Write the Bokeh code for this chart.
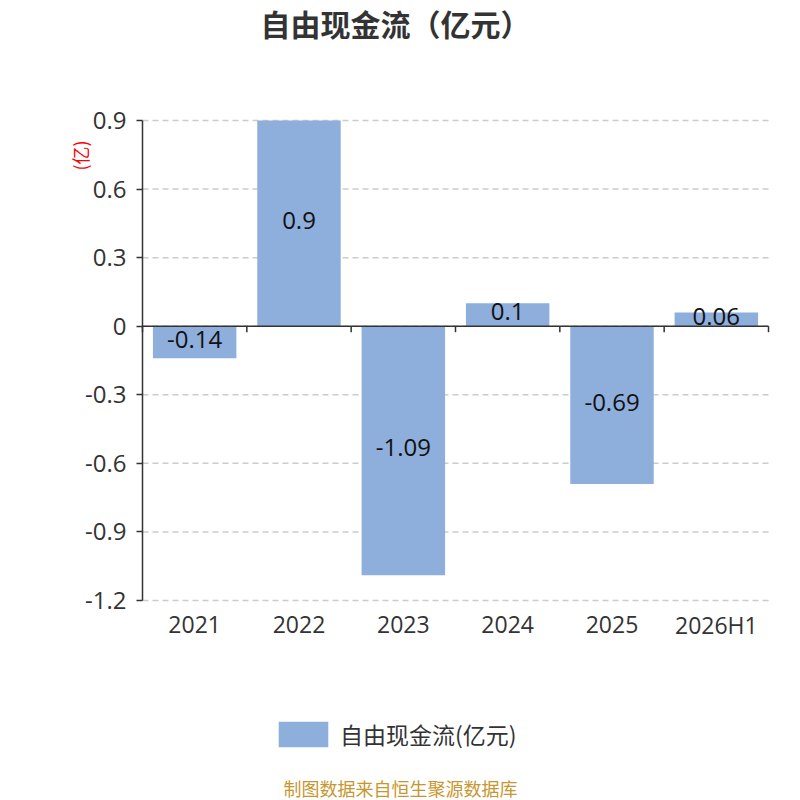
import math
from bokeh.plotting import figure
from bokeh.models import (Range1d, FixedTicker, Label, Legend, LegendItem,
                          ColumnDataSource, CustomJSTickFormatter)
from bokeh.core.properties import value
from bokeh.embed import file_html
from bokeh.resources import INLINE

# ---- data ----
categories = ["2021", "2022", "2023", "2024", "2025", "2026H1"]
free_cash_flow = [-0.14, 0.9, -1.09, 0.1, -0.69, 0.06]
value_labels = ["-0.14", "0.9", "-1.09", "0.1", "-0.69", "0.06"]
y_ticks = [-1.2, -0.9, -0.6, -0.3, 0, 0.3, 0.6, 0.9]
title_text = "自由现金流（亿元）"
series_name = "自由现金流(亿元)"
unit_text = "(亿)"
footer_text = "制图数据来自恒生聚源数据库"

# ---- layout (pixels) ----
W = H = 800
FRAME_LEFT = 64          # left border reserved for the y axis panel
AXIS_X = 142             # pixel position of the value axis
PLOT_RIGHT = 768         # right end of the category band
PLOT_TOP = 120           # pixel position of max tick
PLOT_BOTTOM = 600        # pixel position of min tick

CJK = "Noto Sans CJK SC"
NUM = "Open Sans"
BAR_COLOR = "#8eaedc"
AXIS_COLOR = "#333333"

n = len(categories)
centers = [i + 0.5 for i in range(n)]
bounds = list(range(n + 1))
ymin, ymax = min(y_ticks), max(y_ticks)

x_per = (PLOT_RIGHT - AXIS_X) / n
y_per = (PLOT_BOTTOM - PLOT_TOP) / (ymax - ymin)
x_range = Range1d(-(AXIS_X - FRAME_LEFT) / x_per, n + (W - PLOT_RIGHT) / x_per)
y_range = Range1d(ymin - (H - PLOT_BOTTOM) / y_per, ymax + PLOT_TOP / y_per)

src = ColumnDataSource(dict(
    xc=centers,
    val=free_cash_flow,
    mid=[v / 2 for v in free_cash_flow],
    lab=value_labels,
))

p = figure(
    width=W, height=H, title=None,
    x_range=x_range, y_range=y_range,
    x_axis_location=None, y_axis_location="left",
    output_backend="svg", toolbar_location=None,
    min_border_left=FRAME_LEFT, min_border_right=0,
    min_border_top=0, min_border_bottom=0,
)
p.outline_line_color = None
p.background_fill_color = "white"
p.border_fill_color = "white"
p.xgrid.visible = False
p.ygrid.visible = False

# dashed horizontal grid lines across the category band
p.segment(x0=[bounds[0]] * len(y_ticks), x1=[bounds[-1]] * len(y_ticks),
          y0=y_ticks, y1=y_ticks, line_color="#cccccc", line_width=1.5,
          line_dash="6 4")

bars = p.vbar(x="xc", top="val", bottom=0, width=0.8, source=src,
              fill_color=BAR_COLOR, line_color=None)

# category axis line at zero with boundary ticks
p.segment(x0=[bounds[0]], x1=[bounds[-1]], y0=[0], y1=[0],
          line_color=AXIS_COLOR, line_width=1.5)
p.ray(x=bounds, y=[0] * len(bounds), length=6, length_units="screen",
      angle=-math.pi / 2, line_color=AXIS_COLOR, line_width=1.5)

# value labels inside bars
p.text(x="xc", y="mid", text="lab", source=src, y_offset=-3,
       text_align="center", text_baseline="middle",
       text_font=value(NUM), text_font_size="24px", text_color="#111111")

# category labels under the plot
p.text(x=centers, y=[ymin] * n, text=categories, y_offset=24,
       text_align="center", text_baseline="middle",
       text_font=value(NUM), text_font_size="23px", text_color=AXIS_COLOR)

# y axis at x = 0
ya = p.yaxis[0]
ya.fixed_location = 0
ya.bounds = (ymin, ymax)
ya.ticker = FixedTicker(ticks=y_ticks)
ya.formatter = CustomJSTickFormatter(code="return Math.abs(tick) < 1e-9 ? '0' : tick.toFixed(1);")
ya.axis_line_color = AXIS_COLOR
ya.axis_line_width = 1.5
ya.major_tick_line_color = AXIS_COLOR
ya.major_tick_line_width = 1.5
ya.major_tick_out = 6
ya.major_tick_in = 0
ya.minor_tick_line_color = None
ya.major_label_text_font = NUM
ya.major_label_text_font_size = "24px"
ya.major_label_text_color = AXIS_COLOR
ya.major_label_standoff = 10

# title
p.add_layout(Label(x=395 - FRAME_LEFT, y=H - 22, x_units="screen", y_units="screen",
                   text=title_text, text_align="center", text_baseline="middle",
                   text_font=CJK, text_font_size="30px", text_font_style="bold",
                   text_color="#333333"))

# unit label (rotated, red)
p.add_layout(Label(x=79 - FRAME_LEFT, y=H - 155, x_units="screen", y_units="screen",
                   text=unit_text, angle=math.pi / 2,
                   text_align="center", text_baseline="middle",
                   text_font=CJK, text_font_size="18px", text_color="#ff0000"))

# footer
p.add_layout(Label(x=400 - FRAME_LEFT, y=H - 787, x_units="screen", y_units="screen",
                   text=footer_text, text_align="center", text_baseline="middle",
                   text_font=CJK, text_font_size="18px", text_color="#c8962e"))

# legend (area legend glyphs are inset by 10%, so the box is a bit larger)
legend = Legend(items=[LegendItem(label=series_name, renderers=[bars])],
                location=(272 - FRAME_LEFT, H - 751), orientation="horizontal",
                glyph_width=62, glyph_height=32,
                label_text_font=CJK, label_text_font_size="23px",
                label_text_color="#333333", label_text_baseline="middle",
                border_line_color=None, background_fill_alpha=0,
                padding=0, margin=0, label_standoff=6)
p.add_layout(legend, "center")

open("out.html", "w").write(file_html(p, INLINE))
